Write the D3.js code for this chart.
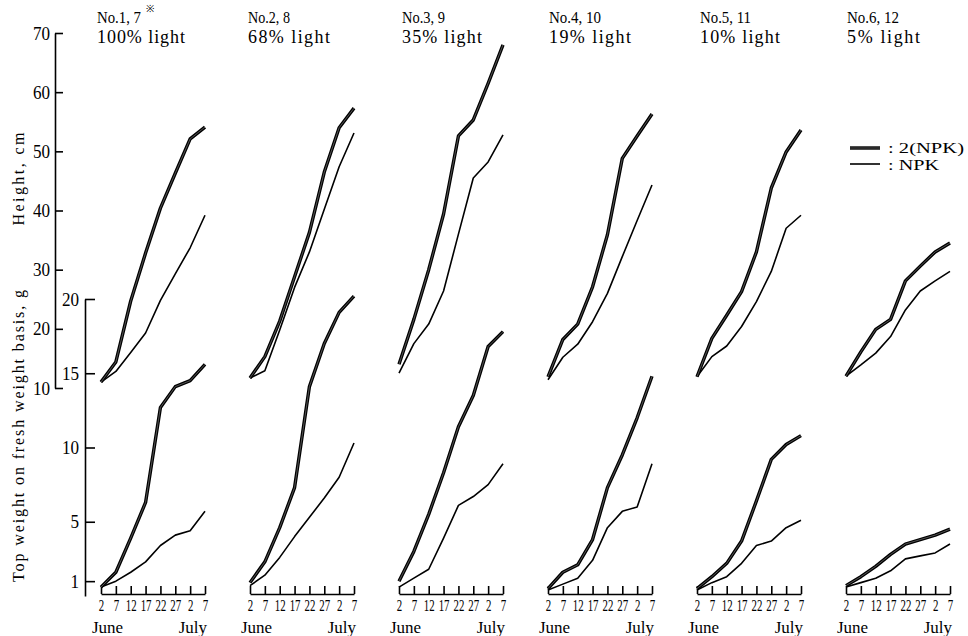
<!DOCTYPE html>
<html>
<head>
<meta charset="utf-8">
<script src="https://cdn.jsdelivr.net/npm/d3@7"></script>
<style>
  body { margin: 0; background: #fff; }
  .axis path, .axis line { stroke: #000; stroke-width: 1.6; }
  .axis text { fill: #000; }
</style>
</head>
<body>
<svg id="chart" width="968" height="636"></svg>
<script>
"use strict";

// sampling days, counted from June 2 (June 2 ... July 7)
const days = [0, 5, 10, 15, 20, 25, 30, 35];
const dayLabels = ["2", "7", "12", "17", "22", "27", "2", "7"];

const panelNos = ["No.1, 7", "No.2, 8", "No.3, 9", "No.4, 10", "No.5, 11", "No.6, 12"];
const lightLabels = ["100% light", "68% light", "35% light", "19% light", "10% light", "5% light"];

// Height, cm  (2(NPK) = double dose, NPK = single dose)
const heightDouble = [
  [11.0, 14.4, 24.7, 32.8, 40.4, 46.3, 52.1, 54.1],
  [11.7, 15.3, 21.3, 28.8, 36.3, 46.5, 54.0, 57.3],
  [14.0, 21.6, 30.0, 39.4, 52.6, 55.3, 61.5, 68.0],
  [11.9, 18.2, 20.8, 27.1, 35.9, 48.8, 52.6, 56.3],
  [11.9, 18.4, 22.3, 26.3, 33.0, 43.8, 49.9, 53.6],
  [12.0, 16.1, 19.9, 21.6, 28.1, 30.6, 33.0, 34.5]
];
const heightSingle = [
  [11.0, 12.8, 16.0, 19.3, 24.8, 29.3, 33.7, 39.2],
  [11.7, 12.9, 19.8, 27.0, 33.0, 40.2, 47.4, 53.1],
  [12.5, 17.5, 20.8, 26.4, 36.0, 45.5, 48.2, 52.8],
  [11.4, 15.2, 17.4, 21.2, 26.0, 32.2, 38.3, 44.3],
  [11.9, 15.3, 17.1, 20.4, 24.6, 29.7, 37.0, 39.2],
  [12.0, 13.9, 15.9, 18.7, 23.2, 26.4, 28.1, 29.7]
];

// Top weight on fresh weight basis, g
const weightDouble = [
  [0.6, 1.6, 3.9, 6.3, 12.7, 14.1, 14.5, 15.6],
  [0.9, 2.3, 4.6, 7.3, 14.1, 17.0, 19.1, 20.2],
  [1.0, 3.0, 5.5, 8.3, 11.4, 13.5, 16.8, 17.8],
  [0.5, 1.6, 2.1, 3.8, 7.3, 9.5, 12.0, 14.8],
  [0.5, 1.3, 2.2, 3.7, 6.4, 9.2, 10.2, 10.8],
  [0.7, 1.3, 2.0, 2.8, 3.5, 3.8, 4.1, 4.5]
];
const weightSingle = [
  [0.6, 1.0, 1.6, 2.3, 3.4, 4.1, 4.4, 5.7],
  [0.7, 1.4, 2.6, 4.0, 5.3, 6.6, 8.0, 10.3],
  [0.6, 1.2, 1.8, 3.9, 6.1, 6.7, 7.5, 8.9],
  [0.4, 0.8, 1.2, 2.4, 4.6, 5.7, 6.0, 8.9],
  [0.4, 0.9, 1.3, 2.2, 3.4, 3.7, 4.6, 5.1],
  [0.6, 0.9, 1.2, 1.7, 2.5, 2.7, 2.9, 3.5]
];

const heightTicks = [10, 20, 30, 40, 50, 60, 70];
const weightTicks = [1, 5, 10, 15, 20];

const serif = "'Liberation Serif', 'DejaVu Serif', serif";

const svg = d3.select("#chart").attr("font-family", serif);

// scales
const yH = d3.scaleLinear().domain([10, 70]).range([388, 33]);
const yW = d3.scaleLinear().domain([0, 20]).range([596, 299]);
const xPanel = d3.scalePoint().domain(d3.range(6)).range([101, 846]);
const xDay = d3.scaleLinear().domain([0, 35]).range([0, 104]);

// condensed look of the printed digits
function condense(sel, k) {
  sel.selectAll(".tick text").each(function() {
    const t = d3.select(this);
    const x = +t.attr("x") || 0;
    t.attr("x", x / k).attr("transform", `scale(${k},1)`);
  });
}

// Height axis
const hAxis = svg.append("g")
  .attr("class", "axis")
  .attr("transform", "translate(55,0)")
  .call(d3.axisLeft(yH).tickValues(heightTicks).tickSizeInner(-8).tickSizeOuter(0).tickPadding(5))
  .attr("font-family", serif)
  .attr("font-size", 19);
condense(hAxis, 0.9);

// Weight axis
const wAxis = svg.append("g")
  .attr("class", "axis")
  .attr("transform", "translate(85,0)")
  .call(d3.axisLeft(yW).tickValues(weightTicks).tickSizeInner(-10).tickSizeOuter(0).tickPadding(6))
  .attr("font-family", serif)
  .attr("font-size", 19);
condense(wAxis, 0.9);

// axis titles
svg.append("text")
  .attr("transform", "translate(24,179) rotate(-90)")
  .attr("text-anchor", "middle")
  .attr("font-size", 16)
  .attr("textLength", 93)
  .attr("lengthAdjust", "spacing")
  .text("Height, cm");

svg.append("text")
  .attr("transform", "translate(24,436) rotate(-90)")
  .attr("text-anchor", "middle")
  .attr("font-size", 16)
  .attr("textLength", 292)
  .attr("lengthAdjust", "spacing")
  .text("Top weight on fresh weight basis, g");

const titleShift = [-4, -2, 3, 1, 3, 1];
const noWidths = [44, 42, 43, 52, 51, 52];
const lightWidths = [88, 82, 80, 82, 80, 73];

function drawLine(g, values, y, thick) {
  const line = d3.line()
    .x((d, i) => xDay(days[i]))
    .y(d => y(d));
  g.append("path")
    .attr("d", line(values))
    .attr("fill", "none")
    .attr("stroke", "#000")
    .attr("stroke-width", thick ? 3.4 : 1.6)
    .attr("stroke-linejoin", "round");
  if (thick) {
    g.append("path")
      .attr("d", line(values))
      .attr("fill", "none")
      .attr("stroke", "#777")
      .attr("stroke-width", 0.7);
  }
}

d3.range(6).forEach(i => {
  const g = svg.append("g").attr("transform", `translate(${xPanel(i)},0)`);

  // panel titles
  g.append("text")
    .attr("x", titleShift[i]).attr("y", 23)
    .attr("font-size", 16)
    .attr("textLength", noWidths[i])
    .attr("lengthAdjust", "spacingAndGlyphs")
    .text(panelNos[i]);
  g.append("text")
    .attr("x", titleShift[i]).attr("y", 43)
    .attr("font-size", 18)
    .attr("textLength", lightWidths[i])
    .attr("lengthAdjust", "spacing")
    .text(lightLabels[i]);

  // date axis
  const ax = g.append("g")
    .attr("class", "axis")
    .attr("transform", "translate(0,594)")
    .call(d3.axisBottom(xDay).tickValues(days).tickFormat((d, j) => dayLabels[j])
      .tickSizeInner(-8).tickSizeOuter(0).tickPadding(6))
    .attr("font-family", serif)
    .attr("font-size", 16);
  condense(ax, 0.68);

  g.append("text")
    .attr("x", -9).attr("y", 633)
    .attr("font-size", 17)
    .text("June");
  g.append("text")
    .attr("x", 106).attr("y", 633)
    .attr("text-anchor", "end")
    .attr("font-size", 17)
    .text("July");

  drawLine(g, heightSingle[i], yH, false);
  drawLine(g, heightDouble[i], yH, true);
  drawLine(g, weightSingle[i], yW, false);
  drawLine(g, weightDouble[i], yW, true);
});

// reference mark on first title
svg.append("text")
  .attr("x", xPanel(0) + 45).attr("y", 12)
  .attr("font-size", 10)
  .text("※");

// legend
const legend = svg.append("g").attr("transform", "translate(850,0)");
legend.append("line")
  .attr("x1", 0).attr("x2", 30).attr("y1", 148).attr("y2", 148)
  .attr("stroke", "#000").attr("stroke-width", 3.4);
legend.append("line")
  .attr("x1", 0).attr("x2", 30).attr("y1", 148).attr("y2", 148)
  .attr("stroke", "#777").attr("stroke-width", 0.7);
legend.append("line")
  .attr("x1", 0).attr("x2", 30).attr("y1", 164).attr("y2", 164)
  .attr("stroke", "#000").attr("stroke-width", 1.6);
legend.append("text")
  .attr("x", 38).attr("y", 153)
  .attr("font-size", 14)
  .attr("textLength", 76)
  .attr("lengthAdjust", "spacingAndGlyphs")
  .text(": 2(NPK)");
legend.append("text")
  .attr("x", 38).attr("y", 170)
  .attr("font-size", 14)
  .attr("textLength", 51)
  .attr("lengthAdjust", "spacingAndGlyphs")
  .text(": NPK");
</script>
</body>
</html>
